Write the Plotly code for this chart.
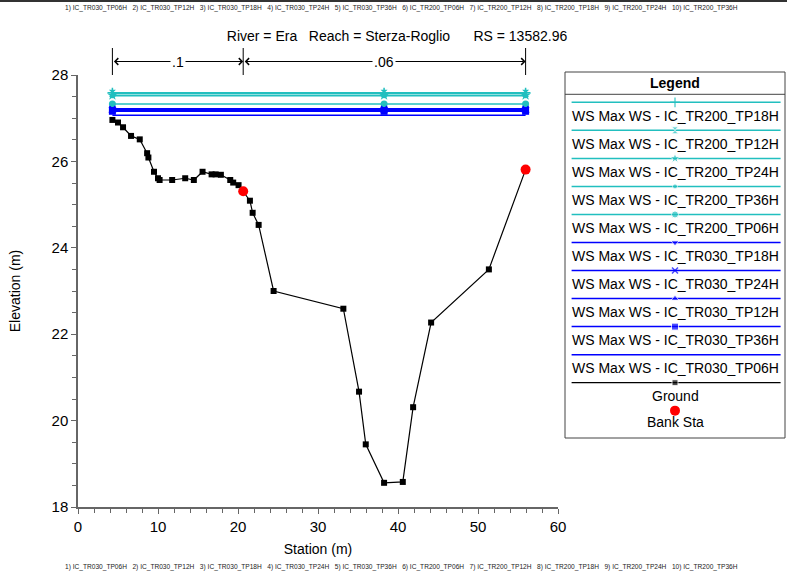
import plotly.graph_objects as go

# ---------------- data ----------------
station = [4.3, 5.0, 5.63, 6.63, 7.72, 8.64, 8.8, 9.5, 10.0, 10.2, 11.77, 13.4, 14.48,
           15.57, 16.7, 17.2, 17.86, 19.03, 19.4, 20.07, 20.65, 21.49, 21.83, 22.58,
           24.45, 33.17, 35.13, 35.97, 38.26, 40.6, 41.89, 44.14, 51.36, 55.95]
ground = [26.96, 26.90, 26.79, 26.59, 26.51, 26.19, 26.09, 25.76, 25.61, 25.57, 25.57,
          25.61, 25.57, 25.76, 25.70, 25.70, 25.69, 25.57, 25.51, 25.45, 25.31, 25.09,
          24.81, 24.53, 23.00, 22.59, 20.67, 19.45, 18.56, 18.58, 20.31, 22.27, 23.50, 25.81]
bank_sta = [20.65, 55.95]
bank_elev = [25.31, 25.81]

ws_names = ["WS Max WS - IC_TR200_TP18H", "WS Max WS - IC_TR200_TP12H",
            "WS Max WS - IC_TR200_TP24H", "WS Max WS - IC_TR200_TP36H",
            "WS Max WS - IC_TR200_TP06H", "WS Max WS - IC_TR030_TP18H",
            "WS Max WS - IC_TR030_TP24H", "WS Max WS - IC_TR030_TP12H",
            "WS Max WS - IC_TR030_TP36H", "WS Max WS - IC_TR030_TP06H"]
ws_levels = [27.59, 27.58, 27.53, 27.52, 27.33, 27.22, 27.21, 27.17, 27.16, 27.07]

n_values = [".1", ".06"]
n_breaks = [4.3, 20.65, 55.95]

title_text = "River = Era\u00a0\u00a0\u00a0Reach = Sterza-Roglio\u00a0\u00a0\u00a0\u00a0\u00a0\u00a0RS = 13582.96"
plan_labels = ["1) IC_TR030_TP06H", "2) IC_TR030_TP12H", "3) IC_TR030_TP18H",
               "4) IC_TR030_TP24H", "5) IC_TR030_TP36H", "6) IC_TR200_TP06H",
               "7) IC_TR200_TP12H", "8) IC_TR200_TP18H", "9) IC_TR200_TP24H",
               "10) IC_TR200_TP36H"]

# ---------------- styles ----------------
TEAL = "#22BFBF"
BLUE = "#0000FF"
ws_colors = [TEAL] * 5 + [BLUE] * 5
ws_symbols = ["cross-thin", "hourglass", "star", "circle", "circle",
              "triangle-down", "x-thin", "triangle-up", "square", None]
ws_msize = [7, 7, 8, 5, 7, 7, 6, 7, 7, 0]
FONT = "Liberation Sans, Arial, sans-serif"

W, H = 787, 573
ML, MR, MT, MB = 78, 2, 40, 66
PW, PH = W - ML - MR, H - MT - MB


def px_x(p):
    return (p - ML) / PW


def px_y(p):
    return (H - MB - p) / PH


def marker_style(col, sym, ms):
    mk = dict(color=col, size=ms, symbol=sym or "circle")
    if sym and sym.endswith("thin"):
        mk["line"] = dict(color=col, width=1.5)
    return mk


fig = go.Figure()

# water surfaces
left, right = station[0], station[-1]
thalweg = station[ground.index(min(ground))]
for name, lvl, col, sym, ms in zip(ws_names, ws_levels, ws_colors, ws_symbols, ws_msize):
    fig.add_trace(go.Scatter(x=[left, thalweg, right], y=[lvl] * 3,
                             mode="lines+markers" if sym else "lines",
                             line=dict(color=col, width=1.5),
                             marker=marker_style(col, sym, ms),
                             name=name, showlegend=False))

# ground
fig.add_trace(go.Scatter(x=station, y=ground, mode="lines+markers",
                         line=dict(color="black", width=1.2),
                         marker=dict(symbol="square", size=6, color="black"),
                         name="Ground", showlegend=False))
fig.add_trace(go.Scatter(x=bank_sta, y=bank_elev, mode="markers",
                         marker=dict(symbol="circle", size=10, color="red"),
                         name="Bank Sta", showlegend=False))

# Manning's n dimension strip (x3 / y3)
for b in n_breaks:
    fig.add_trace(go.Scatter(x=[b, b], y=[0, 1], mode="lines", xaxis="x3", yaxis="y3",
                             line=dict(color="black", width=1), showlegend=False,
                             hoverinfo="skip"))
annotations = []
for i, nv in enumerate(n_values):
    a, b = n_breaks[i], n_breaks[i + 1]
    annotations.append(dict(x=b, y=0.5, ax=a, ay=0.5, xref="x3", yref="y3",
                            axref="x3", ayref="y3", text="", showarrow=True,
                            arrowhead=4, startarrowhead=4, arrowside="end+start",
                            arrowsize=1.3, startarrowsize=1.3, arrowwidth=1,
                            arrowcolor="black", standoff=0, startstandoff=0))
    annotations.append(dict(x=(a + b) / 2, y=0.5, xref="x3", yref="y3", text=nv,
                            showarrow=False, bgcolor="white",
                            font=dict(size=14, color="black", family=FONT)))

# custom legend (x2 / y2 in box-pixel units)
LEG_TOP, LEG_BOT = 72, 438
row0, drow = 102.3, 28.04
leg_items = list(zip(ws_names, ws_colors, ws_symbols, ws_msize)) + \
    [("Ground", "black", "square", 6)]
for i, (name, col, sym, ms) in enumerate(leg_items):
    ly = row0 + drow * i
    if sym:
        mk = marker_style(col, sym, ms)
        mk["size"] = [0, ms, 0]
        fig.add_trace(go.Scatter(x=[0.03, 0.5, 0.98], y=[ly] * 3, xaxis="x2", yaxis="y2",
                                 mode="lines+markers",
                                 line=dict(color=col, width=1.5 if col != "black" else 1.2),
                                 marker=mk, showlegend=False, hoverinfo="skip"))
    else:
        fig.add_trace(go.Scatter(x=[0.03, 0.98], y=[ly] * 2, xaxis="x2", yaxis="y2",
                                 mode="lines", line=dict(color=col, width=1.5),
                                 showlegend=False, hoverinfo="skip"))
    annotations.append(dict(x=0.5, y=ly + 13.3, xref="x2", yref="y2", text=name,
                            showarrow=False, font=dict(size=14, color="black", family=FONT)))
bank_y = row0 + drow * len(leg_items) - 0.1
fig.add_trace(go.Scatter(x=[0.5], y=[bank_y], xaxis="x2", yaxis="y2", mode="markers",
                         marker=dict(color="red", size=10), showlegend=False,
                         hoverinfo="skip"))
annotations.append(dict(x=0.5, y=bank_y + 11.7, xref="x2", yref="y2", text="Bank Sta",
                        showarrow=False, font=dict(size=14, color="black", family=FONT)))
annotations.append(dict(x=0.5, y=83, xref="x2", yref="y2", text="<b>Legend</b>",
                        showarrow=False, font=dict(size=14, color="black", family=FONT)))

# plan header/footer
plan_text = "\u00a0\u00a0\u00a0".join(plan_labels)
for yy in (8, 567):
    annotations.append(dict(x=px_x(401), y=px_y(yy), xref="paper", yref="paper",
                            text=plan_text, showarrow=False, xanchor="center",
                            yanchor="middle",
                            font=dict(size=6.6, color="#222", family=FONT)))

shapes = [
    dict(type="rect", xref="x2 domain", yref="y2 domain", x0=0, x1=1, y0=0, y1=1,
         line=dict(color="#444", width=1)),
    dict(type="line", xref="x2 domain", yref="y2", x0=0, x1=1, y0=94.3, y1=94.3,
         line=dict(color="#444", width=1)),
    dict(type="line", xref="paper", yref="paper", x0=px_x(0), x1=px_x(787),
         y0=px_y(1), y1=px_y(1), line=dict(color="#333", width=2)),
]

axis_common = dict(showline=True, linecolor="#666", linewidth=1.5, ticks="outside",
                   ticklen=5, tickcolor="#666", tickwidth=1.2, showgrid=False,
                   zeroline=False, automargin=False,
                   tickfont=dict(size=15, color="black", family=FONT))
hidden = dict(visible=False, fixedrange=True, automargin=False)

fig.update_layout(
    width=W, height=H, autosize=False,
    margin=dict(l=ML, r=MR, t=MT, b=MB, autoexpand=False),
    paper_bgcolor="white", plot_bgcolor="white",
    showlegend=False,
    font=dict(family=FONT, color="black"),
    title=dict(text=title_text, x=397 / W, xanchor="center",
               y=1 - 36 / H, yanchor="middle", font=dict(size=14, color="black", family=FONT)),
    xaxis=dict(domain=[0, 480 / PW], range=[0, 60], dtick=10, tick0=0,
               minor=dict(dtick=2, ticks="outside", ticklen=4, tickcolor="#666"),
               title=dict(text="Station (m)", font=dict(size=14), standoff=10),
               **axis_common),
    yaxis=dict(domain=[0, px_y(75)], range=[18, 28], dtick=2, tick0=18,
               minor=dict(dtick=0.5, ticks="outside", ticklen=4, tickcolor="#666"),
               title=dict(text="Elevation (m)", font=dict(size=14), standoff=28),
               **axis_common),
    xaxis2=dict(domain=[px_x(565), px_x(785)], range=[0, 1], anchor="y2", **hidden),
    yaxis2=dict(domain=[px_y(LEG_BOT), px_y(LEG_TOP)], range=[LEG_BOT, LEG_TOP],
                anchor="x2", **hidden),
    xaxis3=dict(domain=[0, 480 / PW], range=[0, 60], anchor="y3", **hidden),
    yaxis3=dict(domain=[px_y(75), px_y(48)], range=[0, 1], anchor="x3", **hidden),
    annotations=annotations,
    shapes=shapes,
)

fig.write_html("out.html", config={"displayModeBar": False, "responsive": False},
               post_script="document.body.style.margin='0';document.body.style.overflow='hidden';")
